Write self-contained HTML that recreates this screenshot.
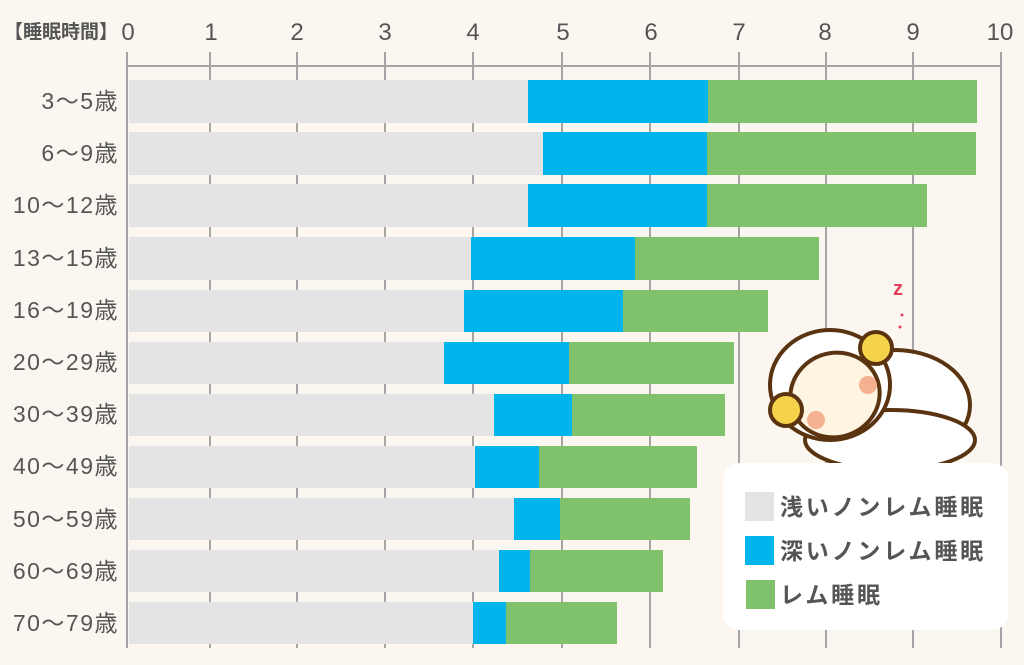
<!DOCTYPE html>
<html><head><meta charset="utf-8"><style>
body{margin:0;background:#fbf7f0;}
svg{display:block;font-family:"Liberation Sans","Noto Sans CJK JP",sans-serif;}
</style></head><body>
<svg width="1024" height="665" viewBox="0 0 1024 665">
<rect width="1024" height="665" fill="#fbf7f0"/>
<g fill="#555" font-size="22">
<text x="4" y="38" font-size="19" font-weight="bold">【睡眠時間】</text>
<g text-anchor="middle" font-size="24">
<text x="128" y="40">0</text><text x="211" y="40">1</text><text x="297" y="40">2</text><text x="385" y="40">3</text><text x="473" y="40">4</text><text x="563" y="40">5</text><text x="651" y="40">6</text><text x="739" y="40">7</text><text x="825" y="40">8</text><text x="913" y="40">9</text><text x="1000" y="40">10</text>
</g>
</g>
<g stroke="#a5a5a5" stroke-width="2">
<line x1="127" y1="66" x2="1002" y2="66"/>
<line x1="127" y1="52" x2="127" y2="648"/>
<line x1="210" y1="52" x2="210" y2="648"/><line x1="297" y1="52" x2="297" y2="648"/><line x1="385" y1="52" x2="385" y2="648"/><line x1="473" y1="52" x2="473" y2="648"/><line x1="562" y1="52" x2="562" y2="648"/><line x1="650" y1="52" x2="650" y2="648"/><line x1="739" y1="52" x2="739" y2="648"/><line x1="826" y1="52" x2="826" y2="648"/><line x1="913" y1="52" x2="913" y2="648"/><line x1="1001" y1="52" x2="1001" y2="648"/>
</g>
<g id="bars">
<rect x="129" y="80" width="399" height="43" fill="#e4e4e4"/><rect x="528" y="80" width="180" height="43" fill="#00b4ec"/><rect x="708" y="80" width="269" height="43" fill="#80c26b"/>
<rect x="129" y="132" width="414" height="43" fill="#e4e4e4"/><rect x="543" y="132" width="164" height="43" fill="#00b4ec"/><rect x="707" y="132" width="269" height="43" fill="#80c26b"/>
<rect x="129" y="184" width="399" height="43" fill="#e4e4e4"/><rect x="528" y="184" width="179" height="43" fill="#00b4ec"/><rect x="707" y="184" width="220" height="43" fill="#80c26b"/>
<rect x="129" y="237" width="342" height="43" fill="#e4e4e4"/><rect x="471" y="237" width="164" height="43" fill="#00b4ec"/><rect x="635" y="237" width="184" height="43" fill="#80c26b"/>
<rect x="129" y="290" width="335" height="42" fill="#e4e4e4"/><rect x="464" y="290" width="159" height="42" fill="#00b4ec"/><rect x="623" y="290" width="145" height="42" fill="#80c26b"/>
<rect x="129" y="342" width="315" height="42" fill="#e4e4e4"/><rect x="444" y="342" width="125" height="42" fill="#00b4ec"/><rect x="569" y="342" width="165" height="42" fill="#80c26b"/>
<rect x="129" y="394" width="365" height="42" fill="#e4e4e4"/><rect x="494" y="394" width="78" height="42" fill="#00b4ec"/><rect x="572" y="394" width="153" height="42" fill="#80c26b"/>
<rect x="129" y="446" width="346" height="42" fill="#e4e4e4"/><rect x="475" y="446" width="64" height="42" fill="#00b4ec"/><rect x="539" y="446" width="158" height="42" fill="#80c26b"/>
<rect x="129" y="498" width="385" height="42" fill="#e4e4e4"/><rect x="514" y="498" width="46" height="42" fill="#00b4ec"/><rect x="560" y="498" width="130" height="42" fill="#80c26b"/>
<rect x="129" y="550" width="370" height="42" fill="#e4e4e4"/><rect x="499" y="550" width="31" height="42" fill="#00b4ec"/><rect x="530" y="550" width="133" height="42" fill="#80c26b"/>
<rect x="129" y="602" width="344" height="42" fill="#e4e4e4"/><rect x="473" y="602" width="33" height="42" fill="#00b4ec"/><rect x="506" y="602" width="111" height="42" fill="#80c26b"/>
</g>
<g fill="#555" font-size="23" text-anchor="end" letter-spacing="1.5">
<text x="119" y="109">3～5歳</text><text x="119" y="161">6～9歳</text><text x="119" y="213">10～12歳</text><text x="119" y="266">13～15歳</text><text x="119" y="318">16～19歳</text><text x="119" y="370">20～29歳</text><text x="119" y="422">30～39歳</text><text x="119" y="474">40～49歳</text><text x="119" y="527">50～59歳</text><text x="119" y="579">60～69歳</text><text x="119" y="631">70～79歳</text>
</g>
<!-- sheep -->
<g stroke="#5a3310" stroke-width="4">
<text x="893" y="295" fill="#e0405a" stroke="none" font-size="20" font-weight="bold">z</text>
<circle cx="902" cy="315" r="1.5" fill="#e0405a" stroke="none"/><circle cx="900" cy="327" r="1.5" fill="#e0405a" stroke="none"/>
<ellipse cx="895" cy="405" rx="75" ry="55" fill="#fff"/>
<ellipse cx="890" cy="440" rx="85" ry="30" fill="#fff"/>
<ellipse cx="830" cy="385" rx="60" ry="55" fill="#fff"/>
<ellipse cx="835" cy="395" rx="45" ry="42" fill="#fdf4e2" transform="rotate(-20 835 395)"/>
<circle cx="876" cy="348" r="16" fill="#f5d24a"/>
<circle cx="786" cy="410" r="16" fill="#f5d24a"/>
</g>
<circle cx="816" cy="420" r="9" fill="#f5b090"/><circle cx="868" cy="385" r="9" fill="#f5b090"/>
<!-- legend -->
<rect x="723" y="463" width="285" height="167" rx="16" fill="#fff"/>
<rect x="745" y="492" width="29" height="29" fill="#e4e4e4"/>
<rect x="745" y="536" width="29" height="29" fill="#00b4ec"/>
<rect x="746" y="580" width="29" height="29" fill="#80c26b"/>
<g fill="#555" font-size="23" font-weight="bold" letter-spacing="2.8">
<text x="780" y="515">浅いノンレム睡眠</text>
<text x="780" y="559">深いノンレム睡眠</text>
<text x="780" y="603">レム睡眠</text>
</g>
</svg>
</body></html>
